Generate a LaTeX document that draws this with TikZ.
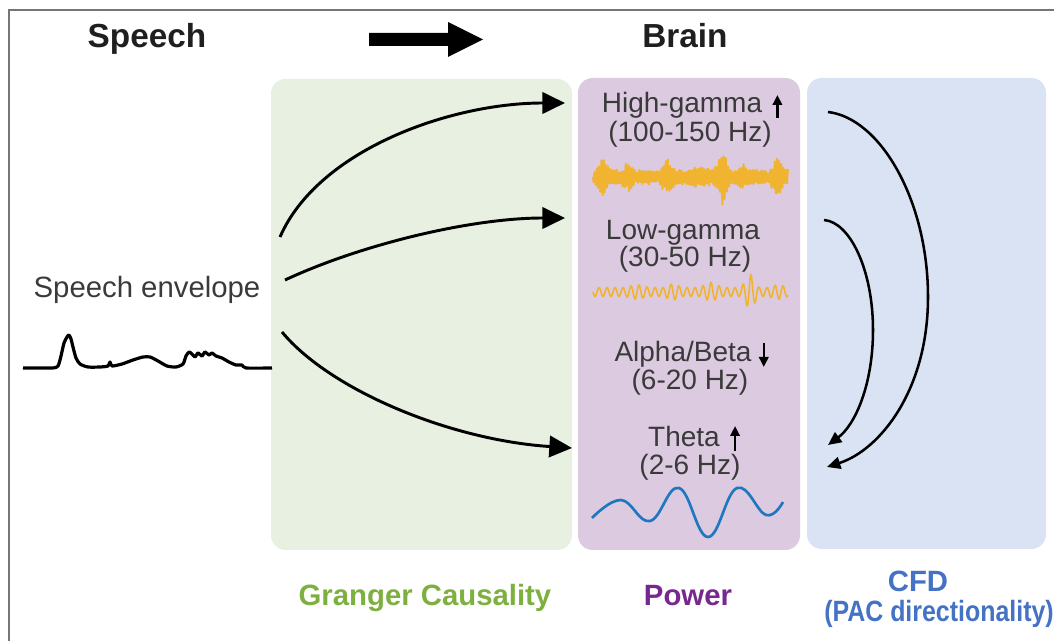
\documentclass[tikz,border=0pt]{standalone}
\usepackage{fontspec}
\setmainfont{Liberation Sans}
\usetikzlibrary{arrows.meta}

\definecolor{framegray}{HTML}{767676}
\definecolor{textgray}{HTML}{3A3A3A}
\definecolor{gcfill}{HTML}{E7F0E1}
\definecolor{powfill}{HTML}{DCCAE0}
\definecolor{cfdfill}{HTML}{DAE3F3}
\definecolor{gcgreen}{HTML}{7DB03F}
\definecolor{powpurple}{HTML}{76288E}
\definecolor{cfdblue}{HTML}{4472C4}
\definecolor{gammayellow}{HTML}{F0B430}
\definecolor{thetablue}{HTML}{1F77C0}

\tikzset{
  title/.style={font=\fontsize{25}{28}\selectfont\bfseries, text=black!88, anchor=base, inner sep=0pt},
  band/.style={font=\fontsize{21}{24}\selectfont, text=textgray, anchor=base, inner sep=0pt},
  method/.style={font=\fontsize{22}{26}\selectfont\bfseries, anchor=base, inner sep=0pt},
  panel/.style={rounded corners=11pt},
  gcarrow/.style={line width=2.2pt, -{Triangle[length=17pt,width=16pt]}},
  cfdarrow/.style={line width=1.9pt, -{Triangle[length=10pt,width=9pt]}},
  trend/.style={line width=1.9pt, -{Triangle[length=7.5pt,width=7pt]}},
}

\begin{document}
\begin{tikzpicture}[x=0.75pt,y=-0.75pt,
  declare function={bump(\t,\c,\w)=max(0,1-abs(\t-\c)/\w);}]
\useasboundingbox (0,0) rectangle (1054,641);
\pgfmathsetseed{11}

% frame
\draw[framegray, line width=1.9pt] (9,641) -- (9,10) -- (1054,10);

% panels
\fill[panel, gcfill] (271,79) rectangle (572,550);
\fill[panel, powfill] (578,78) rectangle (800,550);
\fill[panel, cfdfill] (807,78) rectangle (1046,549);

% titles
\node[title] (speech) at (147,48) {Speech};
\node[title] (brain) at (685,48) {Brain};
\fill (369,33) -- (448,33) -- (448,22) -- (483,39.5) -- (448,57) -- (448,46) -- (369,46) -- cycle;

% speech envelope
\node[band, font=\fontsize{22}{24}\selectfont] (envlabel) at (147,298) {Speech envelope};
\draw[line width=2.4pt, line join=round] plot[smooth, tension=0.4] coordinates {
  (23,368) (52,368) (58,366) (61,356) (64,343) (67,337) (69,335) (71,339)
  (73,347) (76,358) (80,364) (88,367) (100,367) (108,366) (110,362) (112,366)
  (122,364) (133,360) (143,357) (150,357) (158,361) (167,366) (176,367)
  (183,364) (186,356) (189,352) (192,354) (195,357) (198,353) (202,356)
  (205,352) (209,355) (212,353) (216,356) (222,358) (229,362) (236,365)
  (242,365) (246,368) (272,368)};

% Granger causality arrows
\coordinate (gcA) at (280,237);
\coordinate (gcB) at (285,280);
\coordinate (gcC) at (282,332);
\coordinate (hgIn) at (565,103);
\coordinate (lgIn) at (565,218);
\coordinate (thIn) at (572,448);
\draw[gcarrow] (gcA) .. controls (318,150) and (450,103) .. (hgIn);
\draw[gcarrow] (gcB) .. controls (360,245) and (470,218) .. (lgIn);
\draw[gcarrow] (gcC) .. controls (330,390) and (450,440) .. (thIn);

% frequency bands
\node[band] (hg) at (682,113) {High-gamma};
\node[band] (hgHz) at (690,142) {(100-150 Hz)};
\node[band] (lg) at (683,240) {Low-gamma};
\node[band] (lgHz) at (685,267) {(30-50 Hz)};
\node[band] (ab) at (683,362) {Alpha/Beta};
\node[band] (abHz) at (690,390) {(6-20 Hz)};
\node[band] (th) at (684,447) {Theta};
\node[band] (thHz) at (690,475) {(2-6 Hz)};

\draw[trend] ([shift={(15,5)}]hg.base east) -- ++(0,-23);
\draw[trend] ([shift={(12,-19)}]ab.base east) -- ++(0,24);
\draw[trend] ([shift={(15,4)}]th.base east) -- ++(0,-25);

% waveforms
\draw[gammayellow, line width=1.4pt, line join=round] plot[domain=0:195, samples=650]
  (593+\x, {177 + (8 + 17*bump(\x,10,8) + 8*bump(\x,35,7) + 13*bump(\x,74,9)
   + 4*bump(\x,107,12) + 24*bump(\x,129,8) + 7*bump(\x,150,6) + 13*bump(\x,184,8))
   *(0.75*sin(162*mod(\x,20)) + 0.25*rand)});
\draw[gammayellow, line width=1.2pt] plot[domain=0:195, samples=500]
  (593+\x, {292 + (4.5 + 3*bump(\x,44,12) + 4*bump(\x,80,10) + 5*bump(\x,118,12)
   + 14*bump(\x,157,9) + 3*bump(\x,185,10))*sin(45*mod(\x,40))});
\draw[thetablue, line width=2pt] plot[smooth, tension=0.7] coordinates {
  (592,518) (621,500) (650,521) (679,488) (708,537) (737,488) (766,515) (783,502)};

% CFD arrows
\coordinate (cfdA) at (828,112);
\coordinate (cfdB) at (827,467);
\coordinate (cfdC) at (824,220);
\coordinate (cfdD) at (828,445);
\draw[cfdarrow] (cfdA) .. controls (880,118) and (928,200) .. (928,297)
  .. controls (928,390) and (880,450) .. (cfdB);
\draw[cfdarrow] (cfdC) .. controls (850,222) and (873,270) .. (873,330)
  .. controls (873,385) and (855,425) .. (cfdD);

% method labels
\node[method, text=gcgreen] (gc) at (425,605) {Granger Causality};
\node[method, text=powpurple] (pow) at (688,605) {Power};
\node[method, text=cfdblue] (cfd) at (918,591) {CFD};
\node[method, text=cfdblue] (pac) at (939,621) {\scalebox{0.85}[1]{(PAC directionality)}};
\end{tikzpicture}
\end{document}
